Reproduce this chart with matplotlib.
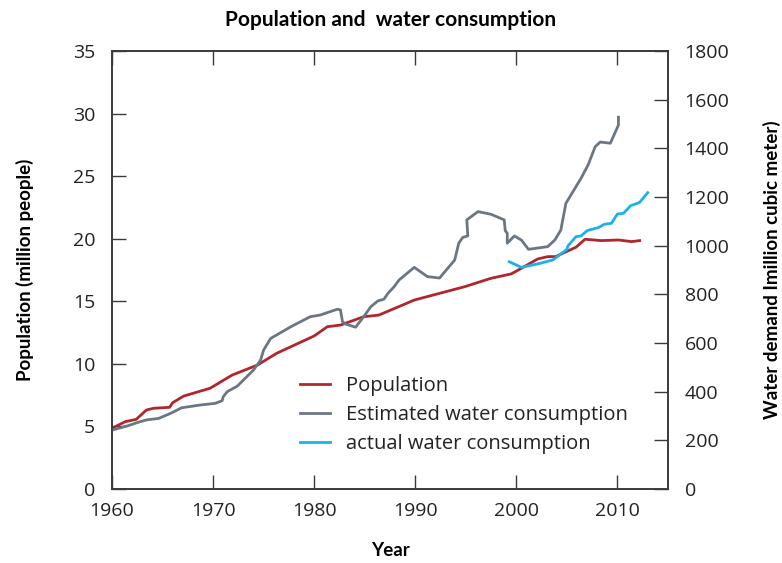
import matplotlib
matplotlib.use("Agg")
import matplotlib.pyplot as plt

# population (million people), left axis
pop_year = [1960, 1961.3, 1962.4, 1963.4, 1964.1, 1965.7, 1966.0, 1967.1, 1969.7,
            1971.9, 1974.4, 1976.3, 1980.0, 1981.3, 1982.6, 1984.9, 1986.4, 1988.6,
            1989.9, 1994.9, 1997.5, 1999.5, 2000.5, 2002.1, 2003.1, 2003.9, 2004.8,
            2005.9, 2006.8, 2008.4, 2010.1, 2011.4, 2012.2]
pop_val = [4.85, 5.38, 5.57, 6.31, 6.45, 6.53, 6.9, 7.43, 8.05,
           9.11, 9.91, 10.85, 12.23, 12.97, 13.1, 13.77, 13.9, 14.65,
           15.1, 16.17, 16.84, 17.19, 17.64, 18.38, 18.57, 18.57, 18.92,
           19.32, 19.96, 19.85, 19.9, 19.77, 19.85]

# estimated water consumption (million m3), right axis
est_year = [1960, 1961.5, 1962.5, 1963.4, 1964.6, 1965.8, 1966.9, 1968.7, 1970.2,
            1970.9, 1971.0, 1971.4, 1972.4, 1974.0, 1974.7, 1975.0, 1975.7, 1977.7,
            1979.6, 1980.6, 1982.3, 1982.6, 1982.8, 1983.1, 1984.1, 1984.9, 1985.6,
            1986.3, 1986.9, 1987.3, 1987.9, 1988.4, 1989.9, 1991.2, 1992.4, 1993.9,
            1994.3, 1994.7, 1995.2, 1995.1, 1996.2, 1997.5, 1998.8, 1998.9, 1999.1,
            1999.1, 1999.8, 2000.5, 2001.2, 2003.1, 2003.8, 2004.4, 2004.9, 2006.4,
            2007.1, 2007.8, 2008.3, 2009.3, 2010.1, 2010.1]
est_val = [242, 259, 273, 284, 290, 311, 334, 345, 352,
           363, 379, 400, 423, 489, 530, 571, 619, 667,
           708, 715, 739, 736, 688, 678, 665, 708, 749,
           773, 780, 804, 831, 859, 911, 873, 867, 941,
           1010, 1034, 1040, 1106, 1140, 1129, 1106, 1062, 1051,
           1010, 1040, 1023, 985, 996, 1023, 1064, 1174, 1277,
           1332, 1407, 1426, 1421, 1496, 1528]

# actual water consumption (million m3), right axis
act_year = [1999.3, 2000.5, 2002.1, 2003.6, 2004.4, 2005.0, 2005.1, 2005.9, 2006.4,
            2007.0, 2008.1, 2008.7, 2009.4, 2010.0, 2010.6, 2011.3, 2012.2, 2013.0]
act_val = [934, 911, 925, 941, 966, 985, 999, 1037, 1040,
           1062, 1074, 1088, 1092, 1130, 1133, 1164, 1178, 1218]

RED = "#b0262b"
GREY = "#6a7782"
BLUE = "#1ab2ea"
SPINE = "#3a3a3a"

plt.rcParams["font.family"] = ["Open Sans", "DejaVu Sans"]

fig = plt.figure(figsize=(7.82, 5.63), dpi=100)
ax = fig.add_axes([0.1432, 0.1314, 0.7110, 0.7780])
ax2 = ax.twinx()

l1, = ax.plot(pop_year, pop_val, color=RED, lw=2.0, label="Population")
l2, = ax2.plot(est_year, est_val, color=GREY, lw=2.0, label="Estimated water consumption")
l3, = ax2.plot(act_year, act_val, color=BLUE, lw=2.0, label="actual water consumption")

ax.set_xlim(1960, 2015)
ax.set_ylim(0, 35)
ax2.set_ylim(0, 1800)
ax.set_xticks([1960, 1970, 1980, 1990, 2000, 2010])
ax.set_yticks(range(0, 36, 5))
ax2.set_yticks(range(0, 1801, 200))

tick_kw = dict(direction="in", length=10, width=1.0, color=SPINE,
               labelsize=14, labelcolor="#222222")
ax.tick_params(axis="x", top=True, pad=9, **tick_kw)
ax.tick_params(axis="y", pad=12, **tick_kw)
ax2.tick_params(axis="y", pad=12, **tick_kw)
for a in (ax, ax2):
    for s in a.spines.values():
        s.set_color(SPINE)
        s.set_linewidth(1.2)

lab_kw = dict(fontsize=13.5, fontweight="bold", family=["Lato", "DejaVu Sans"])
ax.set_xlabel("Year", labelpad=16, **lab_kw)
ax.set_ylabel("Population (million people)", labelpad=28, **lab_kw)
ax2.set_ylabel("Water demand Imillion cubic meter)", labelpad=24, **lab_kw)
fig.suptitle("Population and  water consumption", y=0.982,
             fontsize=15, fontweight="bold", family=["Lato", "DejaVu Sans"])

ax.legend(handles=[l1, l2, l3], loc="upper left", bbox_to_anchor=(0.323, 0.276),
          frameon=False, fontsize=14.5, handlelength=1.5, handletextpad=0.8,
          labelspacing=0.45, borderaxespad=0, labelcolor="#222222")

fig.savefig("out.png", dpi=100)
